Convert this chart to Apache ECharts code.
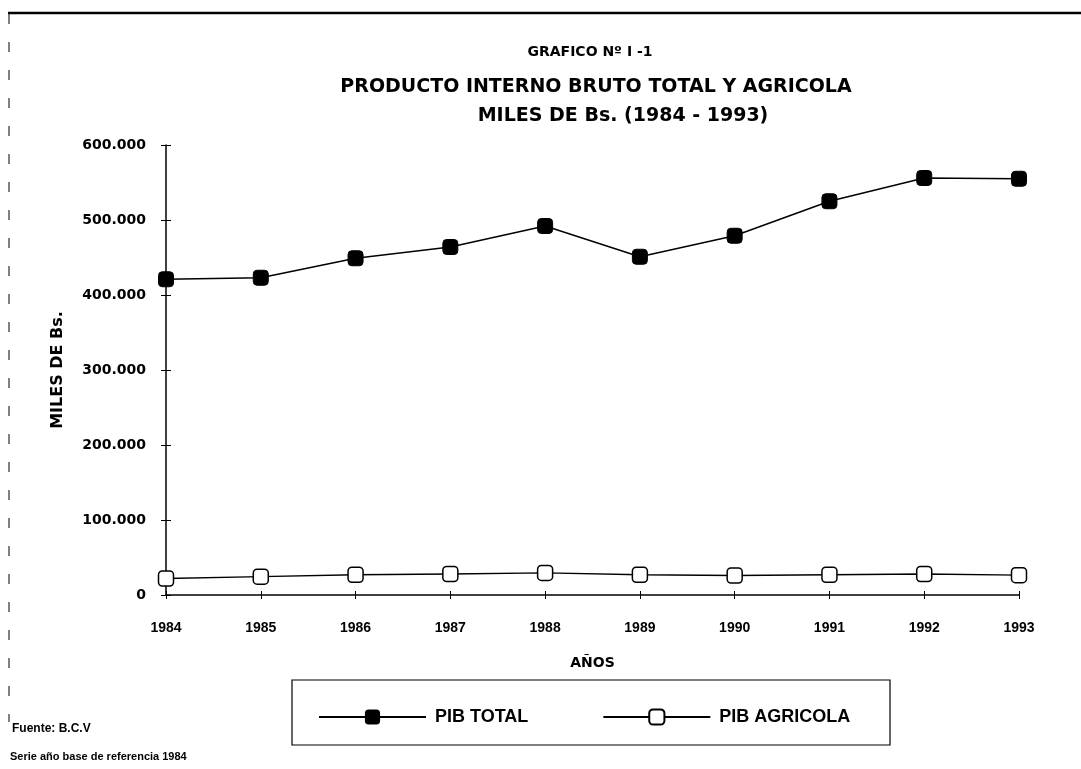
<!DOCTYPE html>
<html>
<head>
<meta charset="utf-8">
<script src="https://cdn.jsdelivr.net/npm/echarts@6/dist/echarts.min.js"></script>
<style>
  html, body { margin: 0; padding: 0; background: #fff; }
  #pib_chart { width: 1081px; height: 769px; }
</style>
</head>
<body>
<div id="pib_chart"></div>
<script>
// años
var years = ["1984", "1985", "1986", "1987", "1988", "1989", "1990", "1991", "1992", "1993"];
// miles de Bs.
var pibTotal = [421000, 423000, 449000, 464000, 492000, 451000, 479000, 525000, 556000, 555000];
var pibAgricola = [22000, 24500, 27000, 28000, 29500, 27000, 26000, 27000, 28000, 26500];
var yTicks = [0, 100000, 200000, 300000, 400000, 500000, 600000];

var chart = echarts.init(document.getElementById("pib_chart"));

var boldFont = "DejaVu Sans";
var axisFont = "Liberation Sans";

function fmtMiles(v) {
  if (v === 0) return "0";
  return String(v).replace(/\B(?=(\d{3})+(?!\d))/g, ".");
}

var option = {
  animation: false,
  backgroundColor: "#fff",
  title: [
    {
      text: "GRAFICO Nº I -1",
      left: 585, top: 40, textAlign: "center",
      textStyle: { fontFamily: boldFont, fontWeight: "bold", fontSize: 14, color: "#000" }
    },
    {
      text: "PRODUCTO INTERNO BRUTO TOTAL Y AGRICOLA",
      left: 591, top: 73, textAlign: "center",
      textStyle: { fontFamily: boldFont, fontWeight: "bold", fontSize: 19, color: "#000" }
    },
    {
      text: "MILES DE Bs. (1984 - 1993)",
      left: 618, top: 102, textAlign: "center",
      textStyle: { fontFamily: boldFont, fontWeight: "bold", fontSize: 19, color: "#000" }
    }
  ],
  legend: {
    left: 313,
    top: 703,
    itemWidth: 107,
    itemHeight: 19,
    itemGap: 74,
    textStyle: { fontFamily: axisFont, fontWeight: "bold", fontSize: 18, color: "#000", padding: [0, 0, 0, 4] },
    data: ["PIB TOTAL", "PIB AGRICOLA"]
  },
  grid: { left: 166, right: 62, top: 145, bottom: 174 },
  xAxis: [
    {
      type: "category",
      data: years,
      boundaryGap: false,
      name: "AÑOS",
      nameLocation: "middle",
      nameGap: 61,
      nameTextStyle: { fontFamily: boldFont, fontWeight: "bold", fontSize: 14, color: "#000" },
      axisLine: { lineStyle: { color: "#000", width: 1.5 } },
      axisTick: { length: 4, lineStyle: { color: "#000", width: 1 } },
      axisLabel: { margin: 26, fontFamily: axisFont, fontWeight: "bold", fontSize: 14, color: "#000" },
      splitLine: { show: false }
    },
    {
      type: "category",
      data: years,
      boundaryGap: false,
      position: "bottom",
      axisLine: { show: false },
      axisTick: { inside: true, length: 4, lineStyle: { color: "#000", width: 1 } },
      axisLabel: { show: false },
      splitLine: { show: false }
    }
  ],
  yAxis: [
    {
      type: "value",
      min: 0,
      max: 600000,
      interval: 100000,
      name: "MILES DE Bs.",
      nameLocation: "middle",
      nameGap: 100,
      nameRotate: 90,
      nameTextStyle: { fontFamily: boldFont, fontWeight: "bold", fontSize: 16, color: "#000" },
      axisLine: { show: true, lineStyle: { color: "#000", width: 1.5 } },
      axisTick: { show: true, length: 5, lineStyle: { color: "#000", width: 1 } },
      axisLabel: {
        margin: 20,
        fontFamily: boldFont, fontWeight: "bold", fontSize: 14, color: "#000",
        formatter: function (v) { return yTicks.indexOf(v) >= 0 ? fmtMiles(v) : ""; }
      },
      splitLine: { show: false }
    },
    {
      type: "value",
      min: 0,
      max: 600000,
      interval: 100000,
      position: "left",
      axisLine: { show: false },
      axisTick: { show: true, inside: true, length: 5, lineStyle: { color: "#000", width: 1 } },
      axisLabel: { show: false },
      splitLine: { show: false }
    }
  ],
  series: [
    {
      name: "PIB TOTAL",
      type: "line",
      data: pibTotal,
      symbol: "roundRect",
      symbolSize: 15,
      lineStyle: { color: "#000", width: 1.5 },
      itemStyle: { color: "#000", borderColor: "#000" }
    },
    {
      name: "PIB AGRICOLA",
      type: "line",
      data: pibAgricola,
      symbol: "roundRect",
      symbolSize: 15,
      lineStyle: { color: "#000", width: 1.5 },
      itemStyle: { color: "#fff", borderColor: "#000", borderWidth: 1.5 }
    }
  ],
  graphic: [
    // marco superior y lateral de la hoja
    { type: "line", shape: { x1: 8, y1: 13, x2: 1081, y2: 13 }, style: { stroke: "#000", lineWidth: 2.5 } },
    { type: "line", shape: { x1: 9, y1: 14, x2: 9, y2: 722 }, style: { stroke: "#000", lineWidth: 1, lineDash: [10, 18] } },
    // caja de la leyenda
    { type: "rect", shape: { x: 292, y: 680, width: 598, height: 65 }, style: { fill: null, stroke: "#000", lineWidth: 1.2 } },
    {
      type: "text", left: 12, top: 723,
      style: { text: "Fuente: B.C.V", font: "bold 12px 'Liberation Sans'", fill: "#000" }
    },
    {
      type: "text", left: 10, top: 751,
      style: { text: "Serie año base de referencia 1984", font: "bold 11px 'Liberation Sans'", fill: "#000" }
    }
  ]
};

chart.setOption(option);

window.addEventListener("resize", function () {
  chart.resize();
});
</script>
</body>
</html>
